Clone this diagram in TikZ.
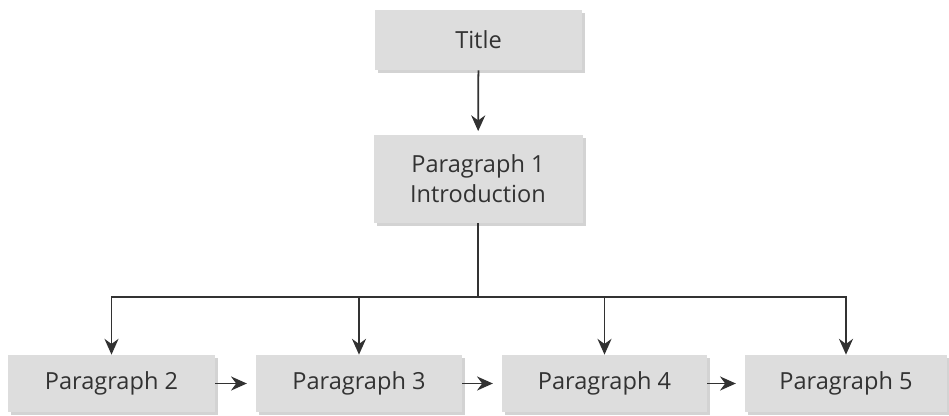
\documentclass[tikz,border=0pt]{standalone}
\usepackage{fontspec}
\setmainfont{Open Sans}
\usetikzlibrary{shadows,arrows.meta}

\definecolor{boxfill}{RGB}{221,221,221}
\definecolor{ink}{RGB}{50,50,50}

\tikzset{
  box/.style={fill=boxfill, text=ink, align=center, inner sep=0pt,
    font=\fontsize{13.4}{17}\selectfont,
    drop shadow={shadow xshift=0.06cm, shadow yshift=-0.06cm, opacity=0.35}},
  link/.style={draw=ink, line width=1pt, -{Stealth[length=9pt,width=8pt]}},
}

\begin{document}
\begin{tikzpicture}
    \useasboundingbox (0, 0) rectangle (18.98, 8.3);

    \node[box, minimum width=4.14cm, minimum height=1.2cm] (title) at (9.57, 7.5) {Title};
    \node[box, minimum width=4.18cm, minimum height=1.76cm] (par1) at (9.56, 4.72) {Paragraph 1\\Introduction};

    \node[box, minimum width=4.14cm, minimum height=1.14cm] (par2) at (2.23, 0.63) {Paragraph 2};
    \node[box, minimum width=4.12cm, minimum height=1.14cm] (par3) at (7.18, 0.63) {Paragraph 3};
    \node[box, minimum width=4.10cm, minimum height=1.14cm] (par4) at (12.09, 0.63) {Paragraph 4};
    \node[box, minimum width=4.04cm, minimum height=1.14cm] (par5) at (16.92, 0.63) {Paragraph 5};

    \coordinate (bar) at (9.56, 2.36);

    \draw[link, shorten >=2pt] (title) -- (par1);
    \draw[draw=ink, line width=1pt] (par1) -- (bar);

    \draw[link] (bar) -| (par2);
    \draw[link] (bar) -| (par3);
    \draw[link] (bar) -| (par4);
    \draw[link] (bar) -| (par5);

    \draw[link, shorten >=5pt] (par2) -- (par3);
    \draw[link, shorten >=5pt] (par3) -- (par4);
    \draw[link, shorten >=5pt] (par4) -- (par5);
\end{tikzpicture}
\end{document}
